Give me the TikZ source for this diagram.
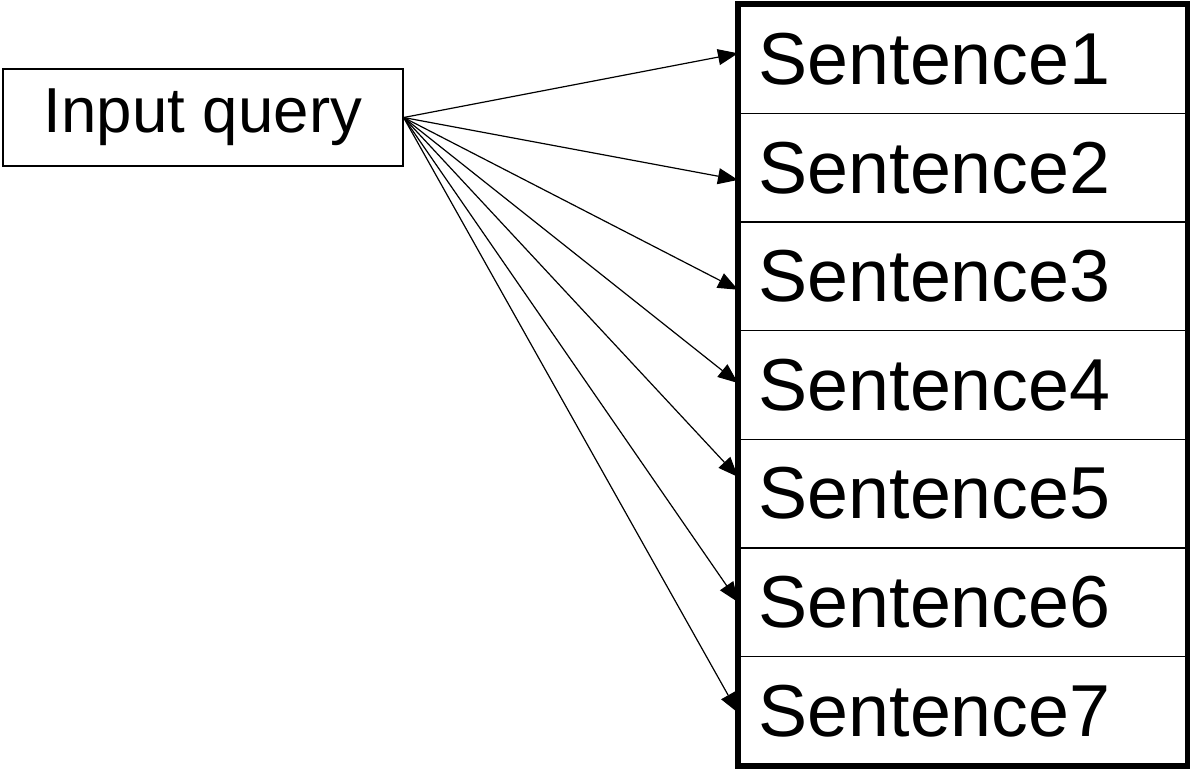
\documentclass[tikz,border=0pt]{standalone}
\usepackage{fontspec}
\setmainfont{Liberation Sans}
\usetikzlibrary{arrows.meta}

\begin{document}
\begin{tikzpicture}[x=0.75pt, y=-0.75pt,
  query/.style={draw, line width=0.9pt, minimum width=300pt, minimum height=72.75pt, font=\fontsize{47.7}{55}\selectfont},
  row/.style={draw, line width=1pt, anchor=west, minimum height=81.45pt, text width=306.75pt, inner xsep=15pt, align=left, font=\fontsize{55.2}{62}\selectfont},
  link/.style={-{Triangle[length=15pt, width=12pt]}, line width=0.9pt}]
\useasboundingbox (0, 0) rectangle (1190, 769);
\node[query](input) at (203, 117.5) {Input query};
\node[row](s1) at (738, 59.3) {Sentence1};
\node[row](s2) at (738, 167.9) {Sentence2};
\node[row](s3) at (738, 276.4) {Sentence3};
\node[row](s4) at (738, 385) {Sentence4};
\node[row](s5) at (738, 493.6) {Sentence5};
\node[row](s6) at (738, 602.1) {Sentence6};
\node[row](s7) at (738, 710.7) {Sentence7};
\draw[line width=4.6pt] (s1.north west) rectangle (s7.south east);
\draw[link] (input.east) -- ([yshift=4.5pt]s1.west);
\draw[link] (input.east) -- ([yshift=-9pt]s2.west);
\draw[link] (input.east) -- ([yshift=-10pt]s3.west);
\draw[link] (input.east) -- ([yshift=1.5pt]s4.west);
\draw[link] (input.east) -- ([yshift=12.5pt]s5.west);
\draw[link] (input.east) -- (s6.west);
\draw[link] (input.east) -- ([yshift=-1.5pt]s7.west);
\end{tikzpicture}
\end{document}
